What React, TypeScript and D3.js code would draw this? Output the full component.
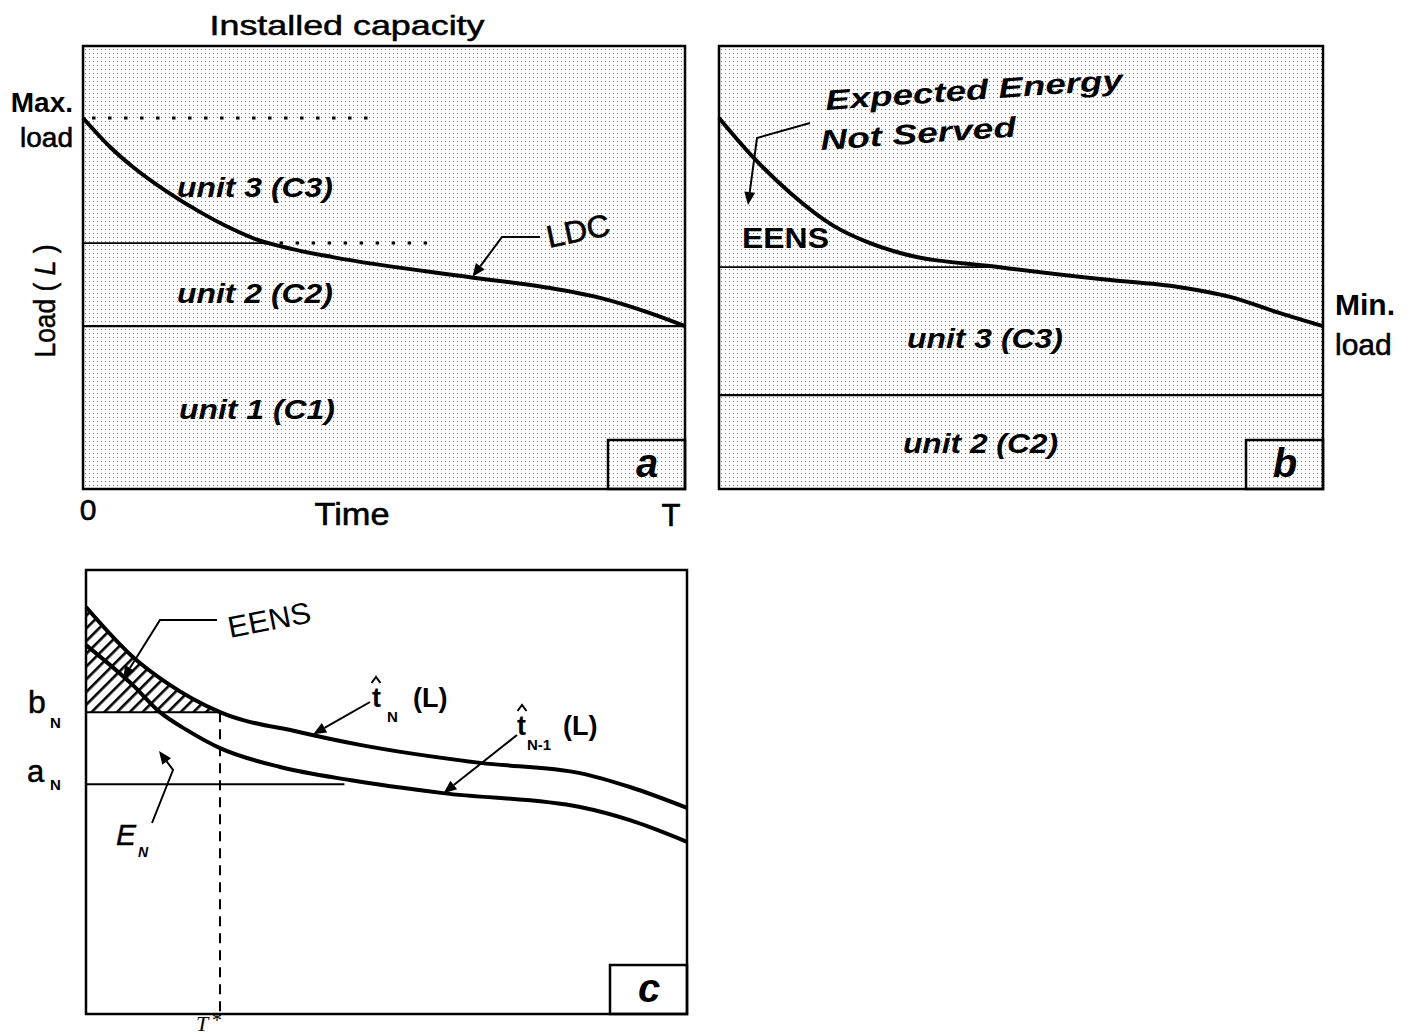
import React from 'react';
import * as d3 from 'd3';

// load duration curves: time as fraction of the period, load in % of max load
const ldcA_t = [0, 0.045, 0.083, 0.14, 0.194, 0.249, 0.289, 0.35, 0.415, 0.643, 0.767, 0.859, 0.942, 1];
const ldcA_L = [100, 92.2, 86.8, 80.1, 74.7, 70.0, 67.2, 64.6, 62.5, 57.1, 54.4, 51.5, 47.4, 43.9];
const ldcB_t = [0, 0.056, 0.118, 0.189, 0.245, 0.3, 0.465, 0.631, 0.763, 0.846, 0.929, 1];
const ldcB_L = [100, 89.5, 79.8, 71.0, 66.6, 63.6, 59.8, 56.6, 54.4, 51.8, 47.4, 43.9];
const tN_t = [0, 0.078, 0.135, 0.223, 0.356, 0.456, 0.656, 0.822, 0.905, 1];
const tN_L = [99.5, 87.3, 80.9, 73.8, 68.9, 65.8, 61.4, 58.9, 55.5, 50.4];
const tN1_t = [0, 0.078, 0.123, 0.168, 0.223, 0.323, 0.439, 0.594, 0.822, 0.905, 1];
const tN1_L = [90.2, 80.4, 73.8, 69.4, 65.0, 60.4, 57.2, 54.0, 50.6, 47.4, 42.1];

// unit levels
const unitLevelsA = [43.9, 66.3];   // top of unit 1, top of unit 2
const unitLevelsB = [25.3, 59.8];   // top of unit 2, top of unit 3
const bN = 73.8;
const aN = 56.2;
const tStar = 0.223;

const SANS = 'Liberation Sans, Arial, Helvetica, sans-serif';
const SERIF = 'Liberation Serif, Times New Roman, serif';

const xA = d3.scaleLinear().domain([0, 1]).range([83, 685]);
const xB = d3.scaleLinear().domain([0, 1]).range([719, 1323]);
const yAB = d3.scaleLinear().domain([0, 100]).range([489, 118]);
const xC = d3.scaleLinear().domain([0, 1]).range([86, 687]);
const yC = d3.scaleLinear().domain([0, 100]).range([1014, 605]);

const zip = (t: number[], l: number[]) => t.map((v, i) => [v, l[i]] as [number, number]);

const curvePath = (x: any, y: any, pts: [number, number][]) =>
  d3.line<[number, number]>().x(d => x(d[0])).y(d => y(d[1])).curve(d3.curveMonotoneX)(pts) || '';

function Txt(p: any) {
  const { x, y, size = 28, weight = 'normal', italic = false, anchor = 'start', rotate = 0, len, family = SANS, stroke = 0, children } = p;
  return (
    <text x={x} y={y} fontSize={size} fontWeight={weight} fontStyle={italic ? 'italic' : 'normal'}
      textAnchor={anchor} fontFamily={family}
      transform={rotate ? `rotate(${rotate},${x},${y})` : undefined}
      textLength={len} lengthAdjust={len ? 'spacingAndGlyphs' : undefined}
      stroke={stroke ? '#000' : 'none'} strokeWidth={stroke} fill="#000">{children}</text>
  );
}

function Arrow({ pts, size = 13 }: { pts: [number, number][]; size?: number }) {
  const [x1, y1] = pts[pts.length - 2];
  const [x2, y2] = pts[pts.length - 1];
  const a = Math.atan2(y2 - y1, x2 - x1);
  const w = size * 0.42;
  const bx = x2 - size * Math.cos(a), by = y2 - size * Math.sin(a);
  const head = `M${x2},${y2}L${bx + w * Math.sin(a)},${by - w * Math.cos(a)}L${bx - w * Math.sin(a)},${by + w * Math.cos(a)}Z`;
  const shaft = d3.line()(pts.slice(0, -1).concat([[bx, by]])) || '';
  return (
    <g>
      <path d={shaft} fill="none" stroke="#000" strokeWidth={2} />
      <path d={head} fill="#000" />
    </g>
  );
}

function PanelBox({ x1, y2, label }: { x1: number; y2: number; label: string }) {
  return (
    <g>
      <rect x={x1 - 77} y={y2 - 49} width={77} height={49} fill="none" stroke="#000" strokeWidth={2.5} />
      <Txt x={x1 - 38} y={y2 - 12} size={40} weight="bold" italic anchor="middle">{label}</Txt>
    </g>
  );
}

function Hat({ x, y }: { x: number; y: number }) {
  return <path d={`M${x - 4.5},${y + 6}L${x},${y}L${x + 4.5},${y + 6}`} fill="none" stroke="#000" strokeWidth={2} />;
}

export default function App() {
  const ldcA = zip(ldcA_t, ldcA_L);
  const ldcB = zip(ldcB_t, ldcB_L);
  const tN = zip(tN_t, tN_L);
  const tN1 = zip(tN1_t, tN1_L);

  const hatchPts = tN.filter(d => d[0] <= tStar);
  const hatchArea = d3.area<[number, number]>()
    .x(d => xC(d[0])).y0(yC(bN)).y1(d => yC(d[1]))
    .curve(d3.curveMonotoneX)(hatchPts) || '';

  return (
    <svg width={1414} height={1036} style={{ position: 'absolute', left: 0, top: 0, background: '#fff' }}>
      <defs>
        <pattern id="stip" width={4} height={4} patternUnits="userSpaceOnUse">
          <rect width={4} height={4} fill="#fff" />
          <rect x={1} y={1} width={1} height={1} fill="#7a7a7a" />
        </pattern>
        <pattern id="hatch" width={9} height={9} patternUnits="userSpaceOnUse" patternTransform="rotate(-45)">
          <rect x={0} y={0} width={9} height={2.6} fill="#000" />
        </pattern>
      </defs>

      {/* ---------- panel a ---------- */}
      <rect x={xA(0)} y={46} width={xA(1) - xA(0)} height={yAB(0) - 46} fill="url(#stip)" stroke="#000" strokeWidth={2.5} />
      <line x1={xA(0)} x2={xA(1)} y1={yAB(unitLevelsA[0])} y2={yAB(unitLevelsA[0])} stroke="#000" strokeWidth={2.2} />
      <line x1={xA(0)} x2={xA(0.30)} y1={yAB(unitLevelsA[1])} y2={yAB(unitLevelsA[1])} stroke="#000" strokeWidth={1.8} />
      <line x1={xA(0.30)} x2={xA(0.576)} y1={yAB(unitLevelsA[1])} y2={yAB(unitLevelsA[1])} stroke="#000" strokeWidth={3} strokeDasharray="3.5,12.5" />
      <line x1={xA(0.015)} x2={xA(0.493)} y1={yAB(100)} y2={yAB(100)} stroke="#000" strokeWidth={3} strokeDasharray="3.5,12.5" />
      <path d={curvePath(xA, yAB, ldcA)} fill="none" stroke="#000" strokeWidth={4} />
      <PanelBox x1={xA(1)} y2={yAB(0)} label="a" />

      <Txt x={347} y={35} size={28} anchor="middle" len={275} stroke={0.5}>Installed capacity</Txt>
      <Txt x={73} y={112} size={28} weight="bold" anchor="end">Max.</Txt>
      <Txt x={73} y={147} size={28} anchor="end" stroke={0.6}>load</Txt>
      <Txt x={55} y={301} size={29} anchor="middle" rotate={-90} len={113} stroke={0.5}>
        Load ( <tspan fontStyle="italic">L</tspan> )
      </Txt>
      <Txt x={177} y={197} size={28} weight="bold" italic len={156}>unit 3 (C3)</Txt>
      <Txt x={177} y={303} size={28} weight="bold" italic len={156}>unit 2 (C2)</Txt>
      <Txt x={179} y={419} size={28} weight="bold" italic len={156}>unit 1 (C1)</Txt>
      <Txt x={88} y={520} size={30} anchor="middle" stroke={0.6}>0</Txt>
      <Txt x={352} y={525} size={32} anchor="middle" len={75} stroke={0.6}>Time</Txt>
      <Txt x={671} y={526} size={31} anchor="middle" stroke={0.6}>T</Txt>
      <Txt x={549} y={248} size={31} rotate={-12} len={64} stroke={0.6}>LDC</Txt>
      <Arrow pts={[[540, 237], [502, 237], [xA(0.647), yAB(57.2)]]} />

      {/* ---------- panel b ---------- */}
      <rect x={xB(0)} y={46} width={xB(1) - xB(0)} height={yAB(0) - 46} fill="url(#stip)" stroke="#000" strokeWidth={2.5} />
      <line x1={xB(0)} x2={xB(1)} y1={yAB(unitLevelsB[0])} y2={yAB(unitLevelsB[0])} stroke="#000" strokeWidth={2.2} />
      <line x1={xB(0)} x2={xB(0.465)} y1={yAB(unitLevelsB[1])} y2={yAB(unitLevelsB[1])} stroke="#000" strokeWidth={1.8} />
      <path d={curvePath(xB, yAB, ldcB)} fill="none" stroke="#000" strokeWidth={4} />
      <PanelBox x1={xB(1)} y2={yAB(0)} label="b" />

      <Txt x={826} y={110} size={28} weight="bold" italic rotate={-4} len={298}>Expected Energy</Txt>
      <Txt x={821} y={150} size={28} weight="bold" italic rotate={-4} len={196}>Not Served</Txt>
      <Arrow pts={[[810, 123], [757, 138], [748, 205]]} />
      <Txt x={742} y={248} size={30} weight="bold" len={87}>EENS</Txt>
      <Txt x={907} y={348} size={28} weight="bold" italic len={156}>unit 3 (C3)</Txt>
      <Txt x={903} y={453} size={28} weight="bold" italic len={155}>unit 2 (C2)</Txt>
      <Txt x={1335} y={315} size={30} weight="bold">Min.</Txt>
      <Txt x={1335} y={355} size={30} stroke={0.6}>load</Txt>

      {/* ---------- panel c ---------- */}
      <rect x={xC(0)} y={570} width={xC(1) - xC(0)} height={yC(0) - 570} fill="#fff" stroke="#000" strokeWidth={2.5} />
      <path d={hatchArea} fill="url(#hatch)" />
      <line x1={xC(0)} x2={xC(tStar)} y1={yC(bN)} y2={yC(bN)} stroke="#000" strokeWidth={2} />
      <line x1={xC(0)} x2={xC(0.43)} y1={yC(aN)} y2={yC(aN)} stroke="#000" strokeWidth={2} />
      <line x1={xC(tStar)} x2={xC(tStar)} y1={yC(bN)} y2={yC(0)} stroke="#000" strokeWidth={2} strokeDasharray="10,7" />
      <path d={curvePath(xC, yC, tN)} fill="none" stroke="#000" strokeWidth={4} />
      <path d={curvePath(xC, yC, tN1)} fill="none" stroke="#000" strokeWidth={4} />
      <PanelBox x1={xC(1)} y2={yC(0)} label="c" />

      <Txt x={230} y={638} size={30} rotate={-11} len={84}>EENS</Txt>
      <Arrow pts={[[217, 620], [160, 620], [123, 679]]} />
      <Txt x={28} y={713} size={32} stroke={0.5}>b</Txt>
      <Txt x={50} y={728} size={15} weight="bold">N</Txt>
      <Txt x={27} y={782} size={31} stroke={0.5}>a</Txt>
      <Txt x={50} y={790} size={15} weight="bold">N</Txt>
      <Txt x={116} y={845} size={30} italic stroke={0.4}>E</Txt>
      <Txt x={138} y={857} size={14} italic weight="bold">N</Txt>
      <Arrow pts={[[152, 823], [173, 770], [159, 751]]} />

      <Hat x={376} y={677} />
      <Txt x={372} y={707} size={27} weight="bold">t</Txt>
      <Txt x={387} y={722} size={15} weight="bold">N</Txt>
      <Txt x={413} y={707} size={27} weight="bold">(L)</Txt>
      <Arrow pts={[[370, 702], [xC(0.378), yC(68.4)]]} />

      <Hat x={522} y={705} />
      <Txt x={517} y={735} size={27} weight="bold">t</Txt>
      <Txt x={527} y={750} size={15} weight="bold">N-1</Txt>
      <Txt x={563} y={735} size={27} weight="bold">(L)</Txt>
      <Arrow pts={[[517, 735], [xC(0.595), yC(54.0)]]} />

      <Txt x={202} y={1031} size={22} italic family={SERIF} anchor="middle">T</Txt>
      <Txt x={212} y={1027} size={20} family={SERIF}>*</Txt>
    </svg>
  );
}
